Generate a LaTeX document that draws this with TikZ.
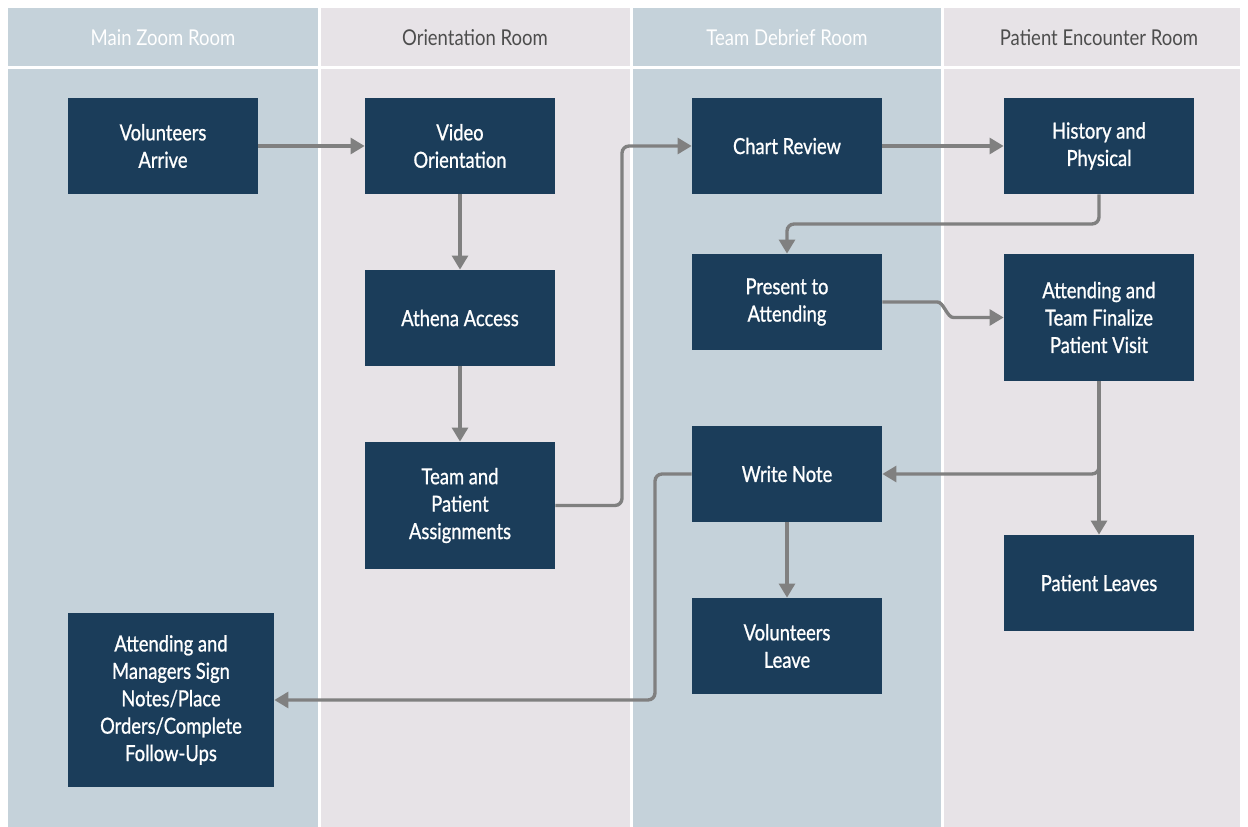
\documentclass[tikz,border=0pt]{standalone}
\usepackage{xcolor}
\usepackage{fontspec}
\setmainfont[FakeStretch=0.85]{Lato}
\newfontfamily\procfont[FakeStretch=0.83,FakeBold=0.9]{Lato}
\usetikzlibrary{arrows.meta}

\definecolor{laneblue}{HTML}{C5D2DA}
\definecolor{lanepink}{HTML}{E7E3E7}
\definecolor{boxblue}{HTML}{1B3D5A}
\definecolor{linegray}{HTML}{808080}
\definecolor{headgray}{HTML}{4D4D4D}

\tikzset{
  proc/.style={fill=boxblue, text=white, align=center, inner sep=2pt,
    minimum width=3.8cm, minimum height=1.92cm,
    font=\procfont\fontsize{12.6}{15.6}\selectfont},
  proctall/.style={proc, minimum height=2.54cm},
  flow/.style={draw=linegray, line width=1.9pt, rounded corners=4pt,
    -{Triangle[length=8pt,width=9pt]}},
  lanehead/.style={font=\fontsize{12.4}{15}\selectfont}
}

\begin{document}
\begin{tikzpicture}[x=0.02cm, y=-0.02cm]
        % Step 1: page frame
        \useasboundingbox (0,0) rectangle (1248,827);

        % Step 2: the four room lanes, header and body
        \fill[laneblue] (8,8) rectangle (318,66);
        \fill[laneblue] (8,69) rectangle (318,827);
        \fill[lanepink] (321,8) rectangle (630,66);
        \fill[lanepink] (321,69) rectangle (630,827);
        \fill[laneblue] (633,8) rectangle (941,66);
        \fill[laneblue] (633,69) rectangle (941,827);
        \fill[lanepink] (944,8) rectangle (1240,66);
        \fill[lanepink] (944,69) rectangle (1240,827);

        % Step 3: lane titles
        \node[lanehead, text=white] (H1) at (163,38) {Main Zoom Room};
        \node[lanehead, text=headgray] (H2) at (475,38) {Orientation Room};
        \node[lanehead, text=white] (H3) at (787,38) {Team Debrief Room};
        \node[lanehead, text=headgray] (H4) at (1099,38) {Patient Encounter Room};

        % Step 4: the steps of the visit
        \node[proc] (VA) at (163,146) {Volunteers\\Arrive};
        \node[proc] (VO) at (460,146) {Video\\Orientation};
        \node[proc] (AA) at (460,318) {Athena Access};
        \node[proctall] (TP) at (460,505.5) {Team and\\Patient\\Assignments};
        \node[proc] (CR) at (787,146) {Chart Review};
        \node[proc] (HP) at (1099,146) {History and\\Physical};
        \node[proc] (PA) at (787,302) {Present to\\Attending};
        \node[proctall] (AF) at (1099,317.5) {Attending and\\Team Finalize\\Patient Visit};
        \node[proc] (WN) at (787,474) {Write Note};
        \node[proc] (PL) at (1099,583) {Patient Leaves};
        \node[proc] (VL) at (787,646) {Volunteers\\Leave};
        \node[proc, minimum width=4.12cm, minimum height=3.48cm] (AM) at (171,700)
          {Attending and\\Managers Sign\\Notes/Place\\Orders/Complete\\Follow-Ups};

        % Step 5: bend points of the connectors
        \coordinate (K1) at (622,0);
        \coordinate (K2) at (0,224);
        \coordinate (K3) at (655,0);

        % Step 6: connectors
        \draw[flow] (VA.east) -- (VO.west);
        \draw[flow] (VO.south) -- (AA.north);
        \draw[flow] (AA.south) -- (TP.north);
        \draw[flow] (TP.east) -- (TP.east -| K1) |- (CR.west);
        \draw[flow] (CR.east) -- (HP.west);
        \draw[flow] (HP.south) -- (HP.south |- K2) -| (PA.north);
        \draw[flow] (PA.east) -- ++(48,0) to[out=0,in=180] ++(30,15.5) -- (AF.west);
        \draw[flow] (AF.south) -- (PL.north);
        \draw[flow] (AF.south) |- (WN.east);
        \draw[flow] (WN.south) -- (VL.north);
        \draw[flow] (WN.west) -- (WN.west -| K3) |- (AM.east);
    \end{tikzpicture}
\end{document}
